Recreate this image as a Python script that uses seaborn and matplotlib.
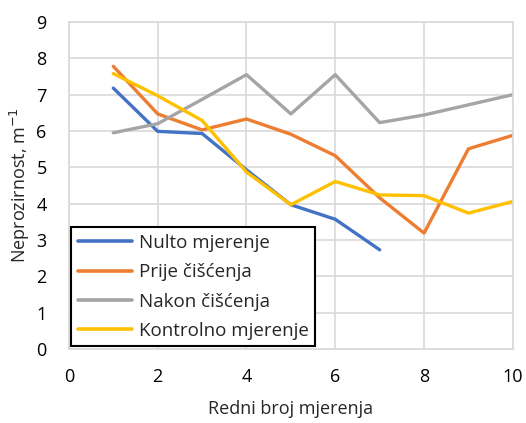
import numpy as np
import pandas as pd
import matplotlib
matplotlib.use("Agg")
import matplotlib.pyplot as plt
import seaborn as sns

# Measurement index
mjerenje = [1, 2, 3, 4, 5, 6, 7, 8, 9, 10]

# Opacity values, m^-1
nulto = [7.18, 5.99, 5.93, 4.93, 3.97, 3.57, 2.73, np.nan, np.nan, np.nan]
prije = [7.78, 6.47, 6.03, 6.33, 5.91, 5.32, 4.16, 3.19, 5.51, 5.88]
nakon = [5.95, 6.20, 6.87, 7.55, 6.47, 7.55, 6.23, 6.44, 6.72, 7.00]
kontrolno = [7.58, 6.97, 6.29, 4.87, 3.97, 4.61, 4.24, 4.22, 3.74, 4.06]

series_names = ["Nulto mjerenje", "Prije čišćenja", "Nakon čišćenja", "Kontrolno mjerenje"]
series_values = [nulto, prije, nakon, kontrolno]
colors = ["#4472C4", "#ED7D31", "#A5A5A5", "#FFC000"]

df = pd.concat(
    [pd.DataFrame({"x": mjerenje, "y": vals, "serija": name})
     for name, vals in zip(series_names, series_values)],
    ignore_index=True,
)

sns.set_theme(style="white")
plt.rcParams["font.family"] = ["Open Sans", "DejaVu Sans"]

fig = plt.figure(figsize=(5.26, 4.23), dpi=100)
ax = fig.add_axes([0.131, 0.175, 0.844, 0.773])

sns.lineplot(data=df, x="x", y="y", hue="serija", hue_order=series_names,
             palette=colors, linewidth=2.4, ax=ax, legend=True)

ax.set_xlim(0, 10)
ax.set_ylim(0, 9)
ax.set_xticks(range(0, 11, 2))
ax.set_yticks(range(0, 10))
ax.grid(True, color="#D9D9D9", linewidth=1.2)
for s in ax.spines.values():
    s.set_color("#D9D9D9")
    s.set_linewidth(1.2)
ax.tick_params(axis="both", length=0, labelsize=13, colors="#000000")
ax.tick_params(axis="y", pad=16)
ax.tick_params(axis="x", pad=14)
ax.set_xlabel("Redni broj mjerenja", fontsize=13, labelpad=10)
ax.set_ylabel("Neprozirnost, m$^{-1}$", fontsize=13, labelpad=3)

leg = ax.legend(loc="lower left", bbox_to_anchor=(0.005, 0.008), borderaxespad=0,
                fontsize=13.5, frameon=True, fancybox=False, handlelength=2.9,
                labelspacing=0.6, borderpad=0.35, handletextpad=0.35)
leg.get_frame().set_edgecolor("black")
leg.get_frame().set_linewidth(1.5)
leg.get_frame().set_alpha(1)
for line in leg.get_lines():
    line.set_linewidth(2.6)

fig.savefig("out.png", dpi=100)
